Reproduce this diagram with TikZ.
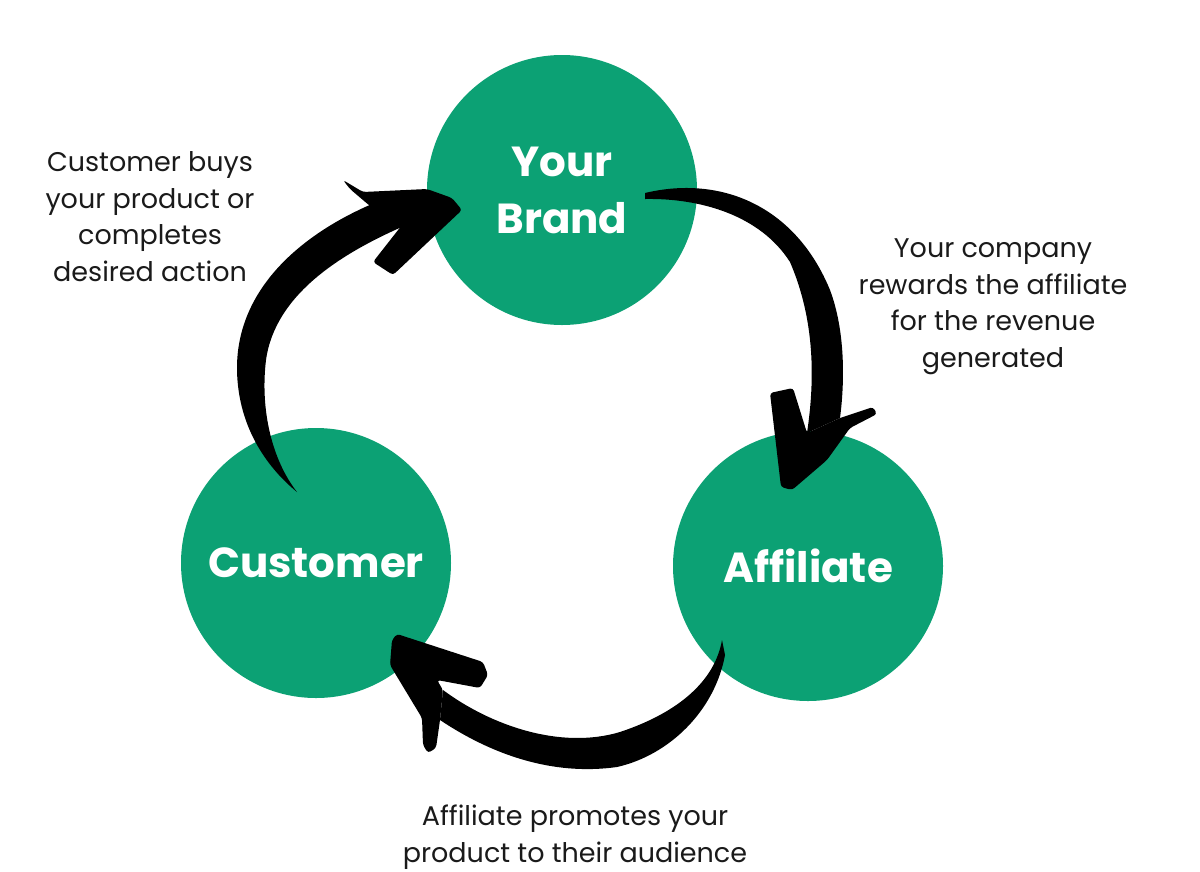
\documentclass[tikz,border=0pt]{standalone}
\usepackage{fontspec}
\setmainfont{Poppins}
\definecolor{brandgreen}{RGB}{12,161,116}
\definecolor{ink}{RGB}{26,26,26}
\tikzset{
  hub/.style={circle, fill=brandgreen, minimum size=270pt, inner sep=0pt,
    text=white, align=center, font=\fontsize{42}{57}\selectfont\bfseries},
  note/.style={text=ink, align=center, inner sep=0pt, anchor=base,
    font=\fontsize{27}{36.5}\selectfont},
  brush/.style={fill=black},
  brushhead/.style={fill=black, rounded corners=3pt},
}
\begin{document}
\begin{tikzpicture}[x=1pt,y=-1pt]
\useasboundingbox (0,0) rectangle (1200,871);
% Circles
\node[hub] (brand) at (562,190) {Your\\Brand};
\node[hub] (customer) at (316,563) {Customer};
\node[hub] (affiliate) at (808,566) {Affiliate};
% Customer -> Brand
\fill[brush] (297,492) .. controls (270,470) and (238,430) .. (237,370)
  .. controls (236,290) and (300,235) .. (372,204) -- (404,226)
  .. controls (340,254) and (275,295) .. (266,360)
  .. controls (260,410) and (272,460) .. cycle;
\fill[brushhead] (343,180) -- (363,192) -- (427,189) -- (452,198) -- (462,210)
  -- (393,275) -- (373,262) -- (402,225) -- (370,206) -- (350,189) -- cycle;
% Brand -> Affiliate
\fill[brush] (645,193) .. controls (720,175) and (795,205) .. (830,290)
  .. controls (845,330) and (845,380) .. (840,418) -- (807,433)
  .. controls (815,380) and (815,320) .. (790,262)
  .. controls (760,215) and (700,198) .. (645,199) -- cycle;
\fill[brushhead] (770,393) -- (793,388) -- (807,433) -- (840,418) -- (873,407)
  -- (877,414) -- (850,428) -- (827,460) -- (792,490) -- (781,487) -- cycle;
% Affiliate -> Customer
\fill[brush] (722,640) .. controls (715,680) and (680,712) .. (620,732)
  .. controls (560,750) and (490,725) .. (443,690) -- (440,720)
  .. controls (500,760) and (560,775) .. (617,767)
  .. controls (670,755) and (715,710) .. (725,655) -- cycle;
\fill[brushhead] (397,634) -- (483,662) -- (488,675) -- (480,688) -- (437,680)
  -- (443,690) -- (440,720) -- (436,748) -- (428,753) -- (423,745)
  -- (422,718) -- (390,665) -- (392,640) -- cycle;
% Labels (base = last line)
\node[note] (buys) at (150,281) {Customer buys\\your product or\\completes\\desired action};
\node[note] (rewards) at (993,367) {Your company\\rewards the affiliate\\for the revenue\\generated};
\node[note] (promotes) at (575,862) {Affiliate promotes your\\product to their audience};
\end{tikzpicture}
\end{document}
